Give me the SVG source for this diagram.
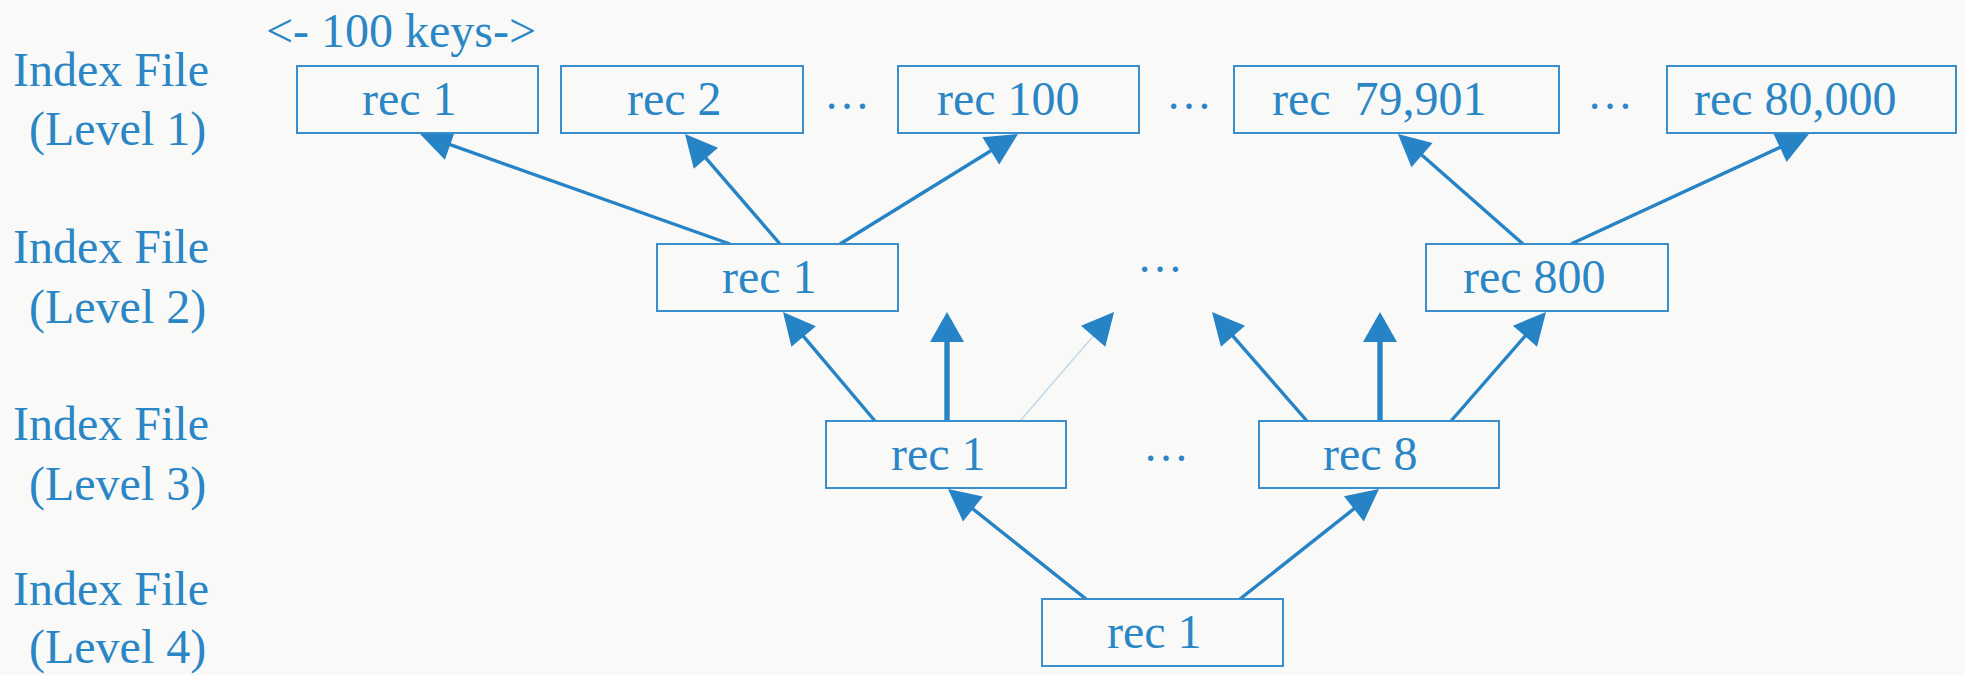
<svg xmlns="http://www.w3.org/2000/svg" width="1965" height="675" viewBox="0 0 1965 675">
  <style>
    .txt { font-family: "Liberation Serif", "Times New Roman", serif; font-size: 48px; fill: #2A86C5; }
    .dots { font-family: "Liberation Serif", "Times New Roman", serif; font-size: 46px; fill: #2A86C5; }
    .box { fill: #F9F9F7; stroke: #3A8ECB; stroke-width: 2; }
    .edge { fill: none; stroke: #2683C6; stroke-width: 3.4; }
    .edge-up { fill: none; stroke: #2683C6; stroke-width: 5.4; }
    .edge-faint { fill: none; stroke: #B9D4E9; stroke-width: 1.2; }
  </style>
  <defs>
    <marker id="head" markerUnits="userSpaceOnUse" markerWidth="34" markerHeight="34" refX="12" refY="16" orient="auto" overflow="visible">
      <path d="M0,0 L32,16 L0,32 Z" fill="#2683C6"/>
    </marker>
    <marker id="head-wide" markerUnits="userSpaceOnUse" markerWidth="32" markerHeight="36" refX="10" refY="17" orient="auto" overflow="visible">
      <path d="M0,0 L30,17 L0,34 Z" fill="#2683C6"/>
    </marker>
  </defs>

  <rect x="0" y="0" width="1965" height="675" fill="#F9F9F7"/>

  <!-- pointers from each index record up to the level above (drawn under the boxes) -->
  <g id="connectors">
    <line class="edge" x1="730" y1="244" x2="438.9" y2="140.7" marker-end="url(#head)"/>
    <line class="edge" x1="780" y1="244" x2="698.1" y2="149.1" marker-end="url(#head)"/>
    <line class="edge" x1="840" y1="244" x2="1001.0" y2="144.5" marker-end="url(#head)"/>
    <line class="edge" x1="1523" y1="244" x2="1413.0" y2="147.2" marker-end="url(#head)"/>
    <line class="edge" x1="1571" y1="244" x2="1790.8" y2="142.4" marker-end="url(#head)"/>

    <line class="edge" x1="875" y1="421" x2="795.9" y2="327.3" marker-end="url(#head)"/>
    <line class="edge-up" x1="947" y1="423" x2="947" y2="332" marker-end="url(#head-wide)"/>
    <line class="edge-faint" x1="1020" y1="421" x2="1101.0" y2="327.2" marker-end="url(#head)"/>
    <line class="edge" x1="1307" y1="421" x2="1225.1" y2="327.1" marker-end="url(#head)"/>
    <line class="edge-up" x1="1380" y1="423" x2="1380" y2="332" marker-end="url(#head-wide)"/>
    <line class="edge" x1="1451" y1="421" x2="1532.9" y2="327.1" marker-end="url(#head)"/>

    <line class="edge" x1="1086" y1="599" x2="963.6" y2="501.5" marker-end="url(#head)"/>
    <line class="edge" x1="1240" y1="599" x2="1363.3" y2="501.4" marker-end="url(#head)"/>
  </g>

  <!-- level labels -->
  <g id="labels">
    <text class="txt" x="13" y="86">Index File</text>
    <text class="txt" x="29" y="145">(Level 1)</text>
    <text class="txt" x="13" y="263">Index File</text>
    <text class="txt" x="29" y="323">(Level 2)</text>
    <text class="txt" x="13" y="440">Index File</text>
    <text class="txt" x="29" y="500">(Level 3)</text>
    <text class="txt" x="13" y="605">Index File</text>
    <text class="txt" x="29" y="663">(Level 4)</text>
    <text class="txt" x="266" y="47">&lt;- 100 keys-&gt;</text>
  </g>

  <!-- level 1 -->
  <g id="l1-rec1"><rect class="box" x="297" y="66" width="241" height="67"/><text class="txt" x="362" y="115">rec 1</text></g>
  <g id="l1-rec2"><rect class="box" x="561" y="66" width="242" height="67"/><text class="txt" x="627" y="115">rec 2</text></g>
  <g id="l1-rec100"><rect class="box" x="898" y="66" width="241" height="67"/><text class="txt" x="937" y="115">rec 100</text></g>
  <g id="l1-rec79901"><rect class="box" x="1234" y="66" width="325" height="67"/><text class="txt" x="1272" y="115" xml:space="preserve">rec  79,901</text></g>
  <g id="l1-rec80000"><rect class="box" x="1667" y="66" width="289" height="67"/><text class="txt" x="1694" y="115">rec 80,000</text></g>
  <g id="l1-gaps">
    <text class="dots" x="847" y="109" text-anchor="middle">…</text>
    <text class="dots" x="1189" y="109" text-anchor="middle">…</text>
    <text class="dots" x="1610" y="109" text-anchor="middle">…</text>
  </g>

  <!-- level 2 -->
  <g id="l2-rec1"><rect class="box" x="657" y="244" width="241" height="67"/><text class="txt" x="722" y="293">rec 1</text></g>
  <g id="l2-rec800"><rect class="box" x="1426" y="244" width="242" height="67"/><text class="txt" x="1463" y="293">rec 800</text></g>
  <g id="l2-gap"><text class="dots" x="1160" y="272" text-anchor="middle">…</text></g>

  <!-- level 3 -->
  <g id="l3-rec1"><rect class="box" x="826" y="421" width="240" height="67"/><text class="txt" x="891" y="470">rec 1</text></g>
  <g id="l3-rec8"><rect class="box" x="1259" y="421" width="240" height="67"/><text class="txt" x="1323" y="470">rec 8</text></g>
  <g id="l3-gap"><text class="dots" x="1166" y="461" text-anchor="middle">…</text></g>

  <!-- level 4 -->
  <g id="l4-rec1"><rect class="box" x="1042" y="599" width="241" height="67"/><text class="txt" x="1107" y="648">rec 1</text></g>
</svg>
